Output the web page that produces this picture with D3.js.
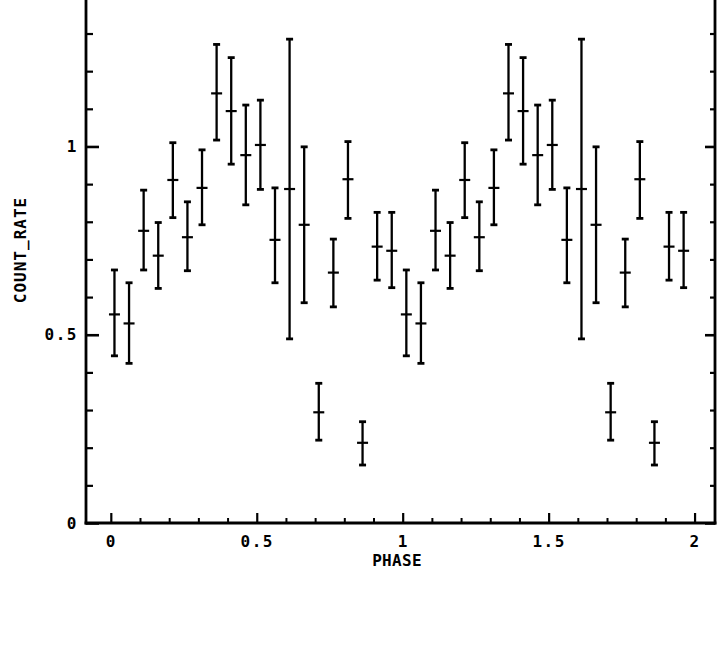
<!DOCTYPE html>
<html>
<head>
<meta charset="utf-8">
<script src="https://cdn.jsdelivr.net/npm/d3@7/dist/d3.min.js"></script>
<style>
  html, body { margin: 0; padding: 0; background: #fff; }
  svg { display: block; }
  .lbl { font-family: "DejaVu Sans Mono", monospace; font-weight: bold; fill: #000; }
</style>
</head>
<body>
<svg id="chart" width="728" height="646"></svg>
<script>
// ---- data (folded light curve, two cycles) ----
const phase = [
  0.0125, 0.0625, 0.1125, 0.1625, 0.2125, 0.2625, 0.3125, 0.3625, 0.4125, 0.4625,
  0.5125, 0.5625, 0.6125, 0.6625, 0.7125, 0.7625, 0.8125, 0.8625, 0.9125, 0.9625,
  1.0125, 1.0625, 1.1125, 1.1625, 1.2125, 1.2625, 1.3125, 1.3625, 1.4125, 1.4625,
  1.5125, 1.5625, 1.6125, 1.6625, 1.7125, 1.7625, 1.8125, 1.8625, 1.9125, 1.9625
];
const countRate = [
  0.554, 0.530, 0.776, 0.710, 0.911, 0.759, 0.890, 1.141, 1.094, 0.977,
  1.004, 0.752, 0.887, 0.792, 0.294, 0.665, 0.913, 0.213, 0.734, 0.723,
  0.554, 0.530, 0.776, 0.710, 0.911, 0.759, 0.890, 1.141, 1.094, 0.977,
  1.004, 0.752, 0.887, 0.792, 0.294, 0.665, 0.913, 0.213, 0.734, 0.723
];
const rateLow = [
  0.444, 0.424, 0.672, 0.623, 0.811, 0.670, 0.792, 1.017, 0.953, 0.845,
  0.886, 0.638, 0.489, 0.585, 0.220, 0.574, 0.809, 0.154, 0.645, 0.625,
  0.444, 0.424, 0.672, 0.623, 0.811, 0.670, 0.792, 1.017, 0.953, 0.845,
  0.886, 0.638, 0.489, 0.585, 0.220, 0.574, 0.809, 0.154, 0.645, 0.625
];
const rateHigh = [
  0.672, 0.638, 0.884, 0.798, 1.010, 0.853, 0.991, 1.271, 1.236, 1.110,
  1.123, 0.890, 1.285, 0.999, 0.371, 0.754, 1.013, 0.269, 0.825, 0.825,
  0.672, 0.638, 0.884, 0.798, 1.010, 0.853, 0.991, 1.271, 1.236, 1.110,
  1.123, 0.890, 1.285, 0.999, 0.371, 0.754, 1.013, 0.269, 0.825, 0.825
];
const xMajorTicks = [0, 0.5, 1, 1.5, 2];
const xTickLabels = ["0", "0.5", "1", "1.5", "2"];
const xMinorTicks = [0.1, 0.2, 0.3, 0.4, 0.6, 0.7, 0.8, 0.9, 1.1, 1.2, 1.3, 1.4, 1.6, 1.7, 1.8, 1.9];
const yMajorTicks = [0, 0.5, 1];
const yTickLabels = ["0", "0.5", "1"];
const yMinorTicks = [0.1, 0.2, 0.3, 0.4, 0.6, 0.7, 0.8, 0.9, 1.1, 1.2, 1.3];
const xTitle = "PHASE";
const yTitle = "COUNT_RATE";

// ---- layout ----
const svg = d3.select("#chart");
const plotLeft = 86, plotRight = 715, plotTop = 0, plotBottom = 523;

const x = d3.scaleLinear().domain([-0.085, 2.07]).range([plotLeft, plotRight]);
const y = d3.scaleLinear().domain([0, 1.389]).range([plotBottom, plotTop]);

svg.append("rect").attr("width", 728).attr("height", 646).attr("fill", "#fff");

// ---- axes (inward ticks) ----
function styleAxis(g, sw) {
  g.select(".domain").remove();
  g.selectAll(".tick line").attr("stroke", "#000").attr("stroke-width", sw);
}

// bottom minor
svg.append("g").attr("transform", `translate(0,${plotBottom})`)
  .call(d3.axisBottom(x).tickValues(xMinorTicks).tickSize(-5).tickFormat(""))
  .call(g => styleAxis(g, 2));
// bottom major with labels
const xAx = svg.append("g").attr("transform", `translate(0,${plotBottom})`)
  .call(d3.axisBottom(x).tickValues(xMajorTicks).tickSize(-10).tickPadding(13)
    .tickFormat((d, i) => xTickLabels[i]))
  .call(g => styleAxis(g, 2.2));
xAx.attr("font-family", null).attr("font-size", null);
xAx.selectAll(".tick text").attr("class", "lbl").style("font-size", "16px")
  .style("letter-spacing", "1.5px");

// left minor
svg.append("g").attr("transform", `translate(${plotLeft},0)`)
  .call(d3.axisLeft(y).tickValues(yMinorTicks).tickSize(-7).tickFormat(""))
  .call(g => styleAxis(g, 2.2));
// left major with labels
const yAx = svg.append("g").attr("transform", `translate(${plotLeft},0)`)
  .call(d3.axisLeft(y).tickValues(yMajorTicks).tickSize(-13).tickPadding(8)
    .tickFormat((d, i) => yTickLabels[i]))
  .call(g => styleAxis(g, 2.6));
yAx.attr("font-family", null).attr("font-size", null);
yAx.selectAll(".tick text").attr("class", "lbl").style("font-size", "16px")
  .style("letter-spacing", "1.5px");

// right minor + major (no labels)
svg.append("g").attr("transform", `translate(${plotRight},0)`)
  .call(d3.axisRight(y).tickValues(yMinorTicks).tickSize(-5).tickFormat(""))
  .call(g => styleAxis(g, 2.2));
svg.append("g").attr("transform", `translate(${plotRight},0)`)
  .call(d3.axisRight(y).tickValues(yMajorTicks).tickSize(-10).tickFormat(""))
  .call(g => styleAxis(g, 2.6));

// frame lines
const frame = svg.append("g").attr("stroke", "#000").attr("stroke-width", 2.8)
  .attr("stroke-linecap", "square");
frame.append("line").attr("x1", plotLeft).attr("x2", plotLeft).attr("y1", plotTop).attr("y2", plotBottom);
frame.append("line").attr("x1", plotLeft).attr("x2", plotRight).attr("y1", plotBottom).attr("y2", plotBottom);
frame.append("line").attr("x1", plotRight).attr("x2", plotRight).attr("y1", plotTop).attr("y2", plotBottom);

// ---- titles ----
svg.append("text").attr("class", "lbl")
  .attr("x", 397).attr("y", 566).attr("text-anchor", "middle")
  .style("font-size", "16px").style("letter-spacing", "0.3px")
  .text(xTitle);
svg.append("text").attr("class", "lbl")
  .attr("transform", "translate(26,250) rotate(-90)").attr("text-anchor", "middle")
  .style("font-size", "16px").style("letter-spacing", "1px")
  .text(yTitle);

// ---- error bars ----
const pts = phase.map((p, i) => ({ p, v: countRate[i], lo: rateLow[i], hi: rateHigh[i] }));
const eb = svg.append("g").attr("stroke", "#000");
const g = eb.selectAll("g.pt").data(pts).join("g").attr("class", "pt");
g.append("line")
  .attr("x1", d => x(d.p)).attr("x2", d => x(d.p))
  .attr("y1", d => y(d.lo)).attr("y2", d => y(d.hi))
  .attr("stroke-width", 2.3);
g.append("line")
  .attr("x1", d => x(d.p) - 3.5).attr("x2", d => x(d.p) + 3.5)
  .attr("y1", d => y(d.hi)).attr("y2", d => y(d.hi))
  .attr("stroke-width", 2.8);
g.append("line")
  .attr("x1", d => x(d.p) - 3.5).attr("x2", d => x(d.p) + 3.5)
  .attr("y1", d => y(d.lo)).attr("y2", d => y(d.lo))
  .attr("stroke-width", 2.8);
g.append("line")
  .attr("x1", d => x(d.p) - 5.5).attr("x2", d => x(d.p) + 5.5)
  .attr("y1", d => y(d.v)).attr("y2", d => y(d.v))
  .attr("stroke-width", 2.2);
</script>
</body>
</html>
